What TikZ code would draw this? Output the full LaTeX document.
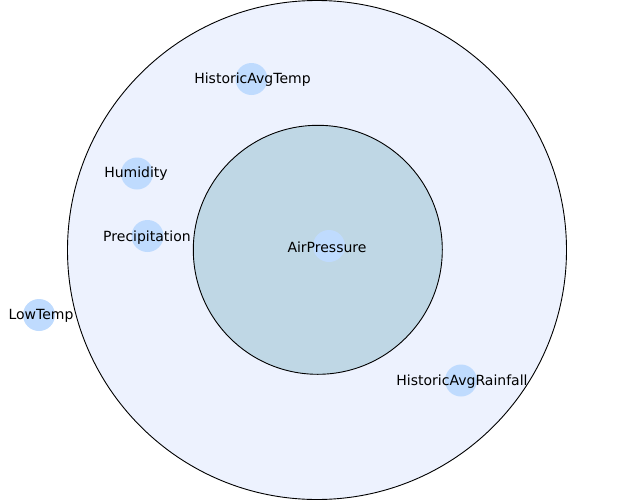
\documentclass[tikz,border=0pt]{standalone}
\usepackage{fontspec}
\setmainfont{DejaVu Sans}
\definecolor{outerfill}{RGB}{237,242,254}
\definecolor{innerfill}{RGB}{191,215,229}
\definecolor{dotfill}{RGB}{191,219,254}
\begin{document}
\begin{tikzpicture}[x=1pt,y=-1pt,
  ring/.style={circle,draw=black,line width=0.9pt,inner sep=0pt},
  dot/.style={circle,fill=dotfill,minimum size=32pt,inner sep=0pt},
  lbl/.style={font=\fontsize{14}{16}\selectfont,text=black,inner sep=0pt}]
\useasboundingbox (0,0) rectangle (627,501);
\node[ring,fill=outerfill,minimum size=499pt] (outer) at (317,250) {};
\node[ring,fill=innerfill,minimum size=249pt] (inner) at (317.8,249.8) {};
\node[dot] (d1) at (251.5,79) {};
\node[dot] (d2) at (137,173.5) {};
\node[dot] (d3) at (147.5,236) {};
\node[dot] (d4) at (39,315) {};
\node[dot] (d5) at (329,246) {};
\node[dot] (d6) at (461,380.5) {};
\node[lbl] (t1) at (252.5,80) {HistoricAvgTemp};
\node[lbl] (t2) at (136,174) {Humidity};
\node[lbl] (t3) at (147,238) {Precipitation};
\node[lbl] (t4) at (41,316) {LowTemp};
\node[lbl] (t5) at (327,247) {AirPressure};
\node[lbl] (t6) at (462,382) {HistoricAvgRainfall};
\end{tikzpicture}
\end{document}
